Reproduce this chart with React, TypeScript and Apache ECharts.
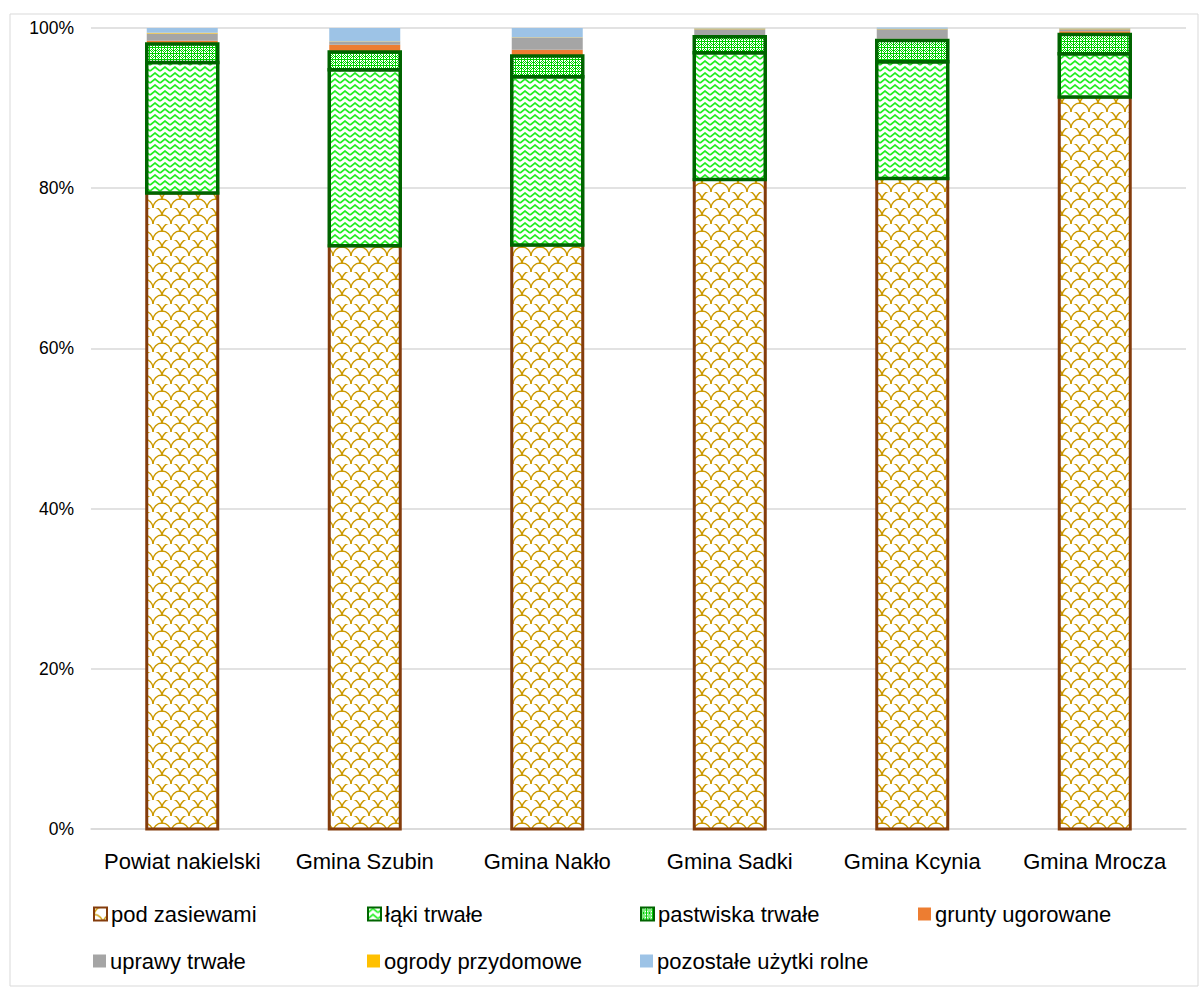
import React, { useEffect, useRef } from "react";
import * as echarts from "echarts";

const categories = ["Powiat nakielski", "Gmina Szubin", "Gmina Nakło", "Gmina Sadki", "Gmina Kcynia", "Gmina Mrocza"];
const podZasiewami = [79.4, 72.8, 72.9, 81.1, 81.2, 91.4];
const lakiTrwale = [16.3, 22.0, 21.0, 15.8, 14.6, 5.4];
const pastwiskaTrwale = [2.3, 2.2, 2.6, 2.0, 2.65, 2.4];
const gruntyUgorowane = [0.4, 0.9, 0.8, 0.15, 0.2, 0.4];
const uprawyTrwale = [0.9, 0.4, 1.5, 0.8, 1.2, 0.25];
const ogrodyPrzydomowe = [0.1, 0.05, 0.05, 0.1, 0.05, 0.1];
const pozostaleUzytki = [0.6, 1.65, 1.15, 0.05, 0.15, 0.05];
const yTicks = [0, 20, 40, 60, 80, 100];

const seriesNames = [
  "pod zasiewami",
  "łąki trwałe",
  "pastwiska trwałe",
  "grunty ugorowane",
  "uprawy trwałe",
  "ogrody przydomowe",
  "pozostałe użytki rolne",
];

function makeTile(w: number, h: number, draw: (ctx: CanvasRenderingContext2D) => void) {
  const c = document.createElement("canvas");
  c.width = w;
  c.height = h;
  const ctx = c.getContext("2d") as CanvasRenderingContext2D;
  ctx.fillStyle = "#ffffff";
  ctx.fillRect(0, 0, w, h);
  draw(ctx);
  return c;
}

function scalePattern() {
  const c = makeTile(18, 16, (ctx) => {
    ctx.strokeStyle = "#CC9900";
    ctx.lineWidth = 1.4;
    ctx.beginPath();
    ctx.arc(9, 8, 9, Math.PI, 2 * Math.PI);
    ctx.stroke();
    ctx.beginPath();
    ctx.arc(0, 16, 9, Math.PI, 2 * Math.PI);
    ctx.stroke();
    ctx.beginPath();
    ctx.arc(18, 16, 9, Math.PI, 2 * Math.PI);
    ctx.stroke();
  });
  return { image: c, repeat: "repeat", imageWidth: 18, imageHeight: 16 };
}

function zigzagPattern() {
  const c = makeTile(10, 6, (ctx) => {
    ctx.strokeStyle = "#22EE22";
    ctx.lineWidth = 1.7;
    ctx.beginPath();
    ctx.moveTo(0, 5);
    ctx.lineTo(5, 1);
    ctx.lineTo(10, 5);
    ctx.stroke();
  });
  return { image: c, repeat: "repeat", imageWidth: 10, imageHeight: 6 };
}

function crossPattern() {
  const c = makeTile(6, 6, (ctx) => {
    ctx.fillStyle = "#00D000";
    const px = [
      [1, 1], [3, 1], [2, 2], [1, 3], [3, 3], [2, 0], [0, 2], [4, 2], [2, 4],
    ];
    px.forEach(([x, y]) => ctx.fillRect(x, y, 1, 1));
    ctx.fillRect(5, 0, 1, 6);
    ctx.fillRect(0, 5, 6, 1);
  });
  return { image: c, repeat: "repeat", imageWidth: 6, imageHeight: 6 };
}

const FONT = "'Liberation Sans', Arial, sans-serif";
const BAR_W = 71;

export default function App() {
  const ref = useRef<HTMLDivElement>(null);
  useEffect(() => {
    if (!ref.current) return;
    const chart = echarts.init(ref.current, null, { renderer: "svg" });
    const brown = "#843C0C";
    const dgreen = "#006400";
    const values = [podZasiewami, lakiTrwale, pastwiskaTrwale, gruntyUgorowane, uprawyTrwale, ogrodyPrzydomowe, pozostaleUzytki];
    const styles: any[] = [
      { color: scalePattern(), borderColor: brown, borderWidth: 3 },
      { color: zigzagPattern(), borderColor: dgreen, borderWidth: 3.5 },
      { color: crossPattern(), borderColor: dgreen, borderWidth: 3.5 },
      { color: "#ED7D31", borderWidth: 0 },
      { color: "#A5A5A5", borderWidth: 0 },
      { color: "#FFC000", borderWidth: 0 },
      { color: "#9DC3E6", borderWidth: 0 },
    ];
    const zs = [3, 4, 5, 2, 2, 2, 2];
    // stacked data rows: [categoryIndex, base, top]
    const base = categories.map(() => 0);
    const stacked = values.map((arr) =>
      arr.map((v, j) => {
        const b = base[j];
        base[j] = b + v;
        return [j, b, b + v];
      })
    );
    const legendPos = [
      [93, 903], [367, 903], [640, 903], [918, 903],
      [93, 950], [367, 950], [640, 950],
    ];
    const option: any = {
      animation: false,
      backgroundColor: "#ffffff",
      textStyle: { fontFamily: FONT },
      grid: { left: 91, right: 17, top: 28, bottom: 161, containLabel: false },
      xAxis: {
        type: "category",
        data: categories,
        axisLine: { show: true, lineStyle: { color: "#D9D9D9", width: 1.5 } },
        axisTick: { show: false },
        axisLabel: { color: "#000", fontSize: 22, margin: 21, interval: 0, fontFamily: FONT },
      },
      yAxis: {
        type: "value",
        min: 0,
        max: 100,
        interval: 20,
        axisLine: { show: false },
        axisTick: { show: false },
        splitLine: { lineStyle: { color: "#D9D9D9", width: 1.5 } },
        axisLabel: {
          color: "#000",
          fontSize: 17.5,
          margin: 17,
          fontFamily: FONT,
          formatter: (v: number) => (yTicks.includes(v) ? v + "%" : ""),
        },
      },
      legend: seriesNames.map((n, i) => ({
        data: [n],
        left: legendPos[i][0],
        top: legendPos[i][1],
        padding: 0,
        itemWidth: 13,
        itemHeight: 13,
        itemGap: 5,
        icon: "rect",
        selectedMode: false,
        textStyle: { fontSize: 22, color: "#000", fontFamily: FONT, padding: [0, 0, 0, -1] },
      })),
      graphic: [
        {
          type: "rect",
          shape: { x: 10, y: 14, width: 1188, height: 972 },
          style: { fill: "none", stroke: "#D9D9D9", lineWidth: 1 },
          silent: true,
          z: -10,
        },
      ],
      series: seriesNames.map((n, i) => ({
        name: n,
        type: "custom",
        z: zs[i],
        data: stacked[i],
        encode: { x: 0, y: [1, 2] },
        itemStyle: styles[i],
        emphasis: { disabled: true },
        renderItem: (params: any, api: any) => {
          const cat = api.value(0);
          const p0 = api.coord([cat, api.value(1)]);
          const p1 = api.coord([cat, api.value(2)]);
          const st = styles[i];
          return {
            type: "rect",
            shape: { x: p0[0] - BAR_W / 2, y: p1[1], width: BAR_W, height: p0[1] - p1[1] },
            style: {
              fill: st.color,
              stroke: st.borderWidth ? st.borderColor : null,
              lineWidth: st.borderWidth || 0,
            },
          };
        },
      })),
    };
    chart.setOption(option);
    return () => chart.dispose();
  }, []);
  return (
    <div
      ref={ref}
      style={{ position: "absolute", left: 0, top: 0, width: 1203, height: 990, background: "#fff" }}
    />
  );
}
